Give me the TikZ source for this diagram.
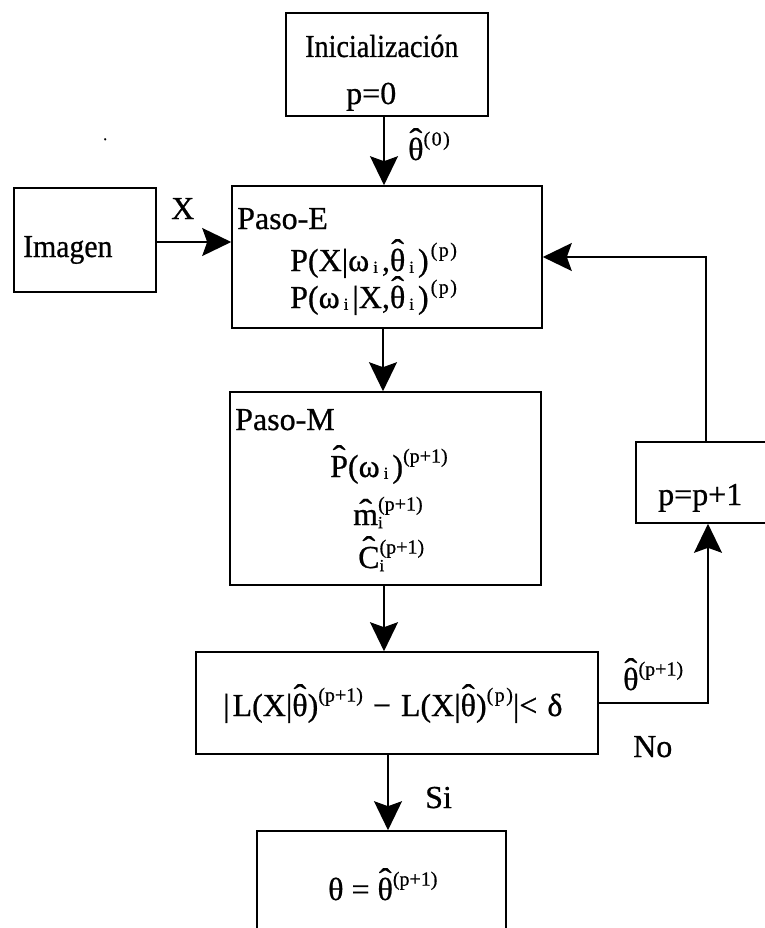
\documentclass[tikz,border=0pt]{standalone}
\usepackage{fontspec}
\setmainfont[FakeBold=0.7]{Liberation Serif}
\usetikzlibrary{arrows.meta}

% small sizes for exponents and indices
\newcommand\supsz{\fontsize{20}{20}\selectfont}
\newcommand\subsz{\fontsize{17}{17}\selectfont}
\newcommand\up[1]{\raisebox{0.45em}{\supsz #1}}
\newcommand\dn[1]{\raisebox{-0.06em}{\subsz\kern4pt#1\kern4pt}}
\newcommand\updn[2]{\rlap{\raisebox{-0.1em}{\subsz #1}}\up{#2}}
\newcommand\pp{(\kern1.5pt p\kern1.5pt)}
\newcommand\ppp{(p+1)}
% a circumflex set over a letter
\newcommand\hatc[2][0.3em]{\leavevmode\setbox0=\hbox{#2}\rlap{\hbox to\wd0{\hss\raisebox{#1}{\scalebox{1.2}[1]{ˆ}}\hss}}\box0}

\tikzset{
  box/.style={draw, line width=1.6pt, rectangle, inner sep=0pt},
  lbl/.style={anchor=base west, inner sep=0pt, font=\fontsize{32}{36}\selectfont},
  arr/.style={line width=1.6pt, -{Stealth[length=29pt,width=28pt,inset=5pt]}},
  ln/.style={line width=1.6pt}
}

\begin{document}
\begin{tikzpicture}[x=1pt,y=-1pt]
\useasboundingbox (0,0) rectangle (764,928);

% boxes
\node[box, minimum width=202pt, minimum height=103pt] (init)   at (387,64.5) {};
\node[box, minimum width=142pt, minimum height=104pt] (imagen) at (85,240) {};
\node[box, minimum width=310pt, minimum height=142pt] (pasoE)  at (387,257) {};
\node[box, minimum width=311pt, minimum height=193pt] (pasoM)  at (385.5,488.5) {};
\node[box, minimum width=402pt, minimum height=102pt] (decide) at (397,703) {};
\node[box, minimum width=249pt, minimum height=140pt] (final)  at (381.5,901) {};
\node[box, minimum width=140pt, minimum height=81pt]  (incr)   at (706,482.5) {};

% texts
\node[lbl] (tInit) at (305,57) {\scalebox{0.88}[1]{Inicialización}};
\node[lbl] (tP0)   at (346,104) {p=0};
\node[lbl] (tTh0)  at (408,160) {\hatc{θ}\up{(\kern1.5pt0\kern1.5pt)}};
\node[lbl] (tX)    at (171,219) {X};
\node[lbl] (tImg)  at (23,257) {\scalebox{0.93}[1]{Imagen}};
\node[lbl] (tE)    at (237,229) {Paso-E};
\node[lbl] (tE1)   at (290,271) {P(X|ω\dn{i},\hatc{θ}\dn{i})\kern2pt\up{\pp}};
\node[lbl] (tE2)   at (290,308) {P(ω\dn{i}|X,\hatc{θ}\dn{i})\kern2pt\up{\pp}};
\node[lbl] (tM)    at (235,430) {Paso-M};
\node[lbl] (tM1)   at (330,477) {\hatc{P}(ω\dn{i})\up{\ppp}};
\node[lbl] (tM2)   at (353,525) {\hatc[0.12em]{m}\updn{i}{\ppp}};
\node[lbl] (tM3)   at (358,568) {\hatc{C}\updn{i}{\ppp}};
\node[lbl] (tInc)  at (658,505) {p=p+1};
\node[lbl] (tDec)  at (223,716) {|\kern3pt L(X|\hatc{θ})\up{\ppp}\kern2pt{} − {}\kern2pt L(X|\hatc{θ})\up{\pp}|< \kern2pt δ};
\node[lbl] (tNew)  at (623,690) {\hatc{θ}\up{\ppp}};
\node[lbl] (tNo)   at (633,757) {No};
\node[lbl] (tSi)   at (425,808) {Si};
\node[lbl] (tFin)  at (328,900) {θ = \hatc{θ}\up{\ppp}};
\node[lbl, font=\fontsize{16}{16}\selectfont] (dot) at (103,140) {.};

% connectors
\coordinate (a1) at ([xshift=-3pt]init.south);
\draw[arr] (a1) -- (a1 |- pasoE.north);
\coordinate (a2) at ([yshift=-2pt]imagen.east);
\draw[arr] (a2) -- (a2 -| pasoE.west);
\coordinate (a3) at ([xshift=-4pt]pasoE.south);
\draw[arr] (a3) -- (a3 |- pasoM.north);
\coordinate (a4) at ([xshift=-1.5pt]pasoM.south);
\draw[arr] (a4) -- (a4 |- decide.north);
\coordinate (a5) at ([xshift=6.5pt]final.north);
\draw[arr] (a5 |- decide.south) -- (a5);
\coordinate (a6) at ([xshift=2pt]incr.south);
\draw[arr] (decide.east) -- (a6 |- decide.east) -- (a6);
\draw[arr] (incr.north) -- (incr.north |- pasoE.east) -- (pasoE.east);
\end{tikzpicture}
\end{document}
